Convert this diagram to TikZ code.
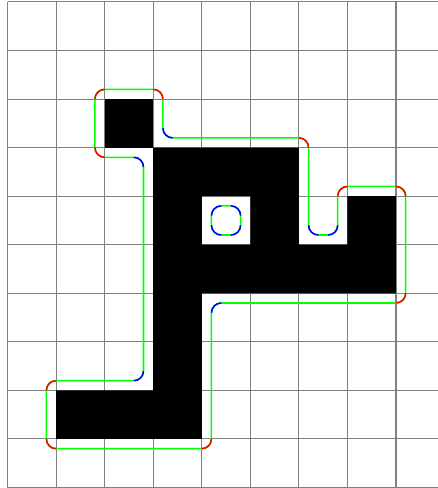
\documentclass[tikz,border=0pt]{standalone}
\begin{document}
\begin{tikzpicture}[
  gridline/.style={draw=gray, line width=0.6pt},
  cell/.style={fill=black},
  contour/.style={draw=green, line width=0.9pt, rounded corners=0.2cm},
  convex/.style={draw=red, line width=0.9pt, rounded corners=0.2cm},
  concave/.style={draw=blue, line width=0.9pt, rounded corners=0.2cm}
]
\useasboundingbox (-0.155,-0.01) rectangle (8.865,10.04);
% grid
\draw[gridline] (0,0) grid (8.865,10);
% black cells
\fill[cell] (2,7) rectangle (3,8);
\fill[cell, even odd rule] (3,7) -- (6,7) -- (6,5) -- (7,5) -- (7,6) -- (8,6) -- (8,4) -- (4,4) -- (4,1) -- (1,1) -- (1,2) -- (3,2) -- cycle
  (4,5) rectangle (5,6);
% outer contour (straight parts)
\draw[contour] (0.8,1.5) -- (0.8,2.2) -- (2.8,2.2) -- (2.8,6.8) -- (1.8,6.8) -- (1.8,8.2) -- (3.2,8.2) -- (3.2,7.2) -- (6.2,7.2) -- (6.2,5.2) -- (6.8,5.2) -- (6.8,6.2) -- (8.2,6.2) -- (8.2,3.8) -- (4.2,3.8) -- (4.2,0.8) -- (0.8,0.8) -- (0.8,1.5);
% inner contour
\draw[contour] (4.5,5.2) -- (4.8,5.2) -- (4.8,5.8) -- (4.2,5.8) -- (4.2,5.2) -- (4.5,5.2);
% convex corners
\draw[convex] (0.8,2.0) -- (0.8,2.2) -- (1.0,2.2);
\draw[convex] (2.0,6.8) -- (1.8,6.8) -- (1.8,7.0);
\draw[convex] (1.8,8.0) -- (1.8,8.2) -- (2.0,8.2);
\draw[convex] (3.0,8.2) -- (3.2,8.2) -- (3.2,8.0);
\draw[convex] (6.0,7.2) -- (6.2,7.2) -- (6.2,7.0);
\draw[convex] (6.8,6.0) -- (6.8,6.2) -- (7.0,6.2);
\draw[convex] (8.0,6.2) -- (8.2,6.2) -- (8.2,6.0);
\draw[convex] (8.2,4.0) -- (8.2,3.8) -- (8.0,3.8);
\draw[convex] (4.2,1.0) -- (4.2,0.8) -- (4.0,0.8);
\draw[convex] (1.0,0.8) -- (0.8,0.8) -- (0.8,1.0);
% concave corners
\draw[concave] (2.6,2.2) -- (2.8,2.2) -- (2.8,2.4);
\draw[concave] (2.8,6.6) -- (2.8,6.8) -- (2.6,6.8);
\draw[concave] (3.2,7.4) -- (3.2,7.2) -- (3.4,7.2);
\draw[concave] (6.2,5.4) -- (6.2,5.2) -- (6.4,5.2);
\draw[concave] (6.6,5.2) -- (6.8,5.2) -- (6.8,5.4);
\draw[concave] (4.4,3.8) -- (4.2,3.8) -- (4.2,3.6);
% inner corners
\draw[concave] (4.2,5.4) -- (4.2,5.2) -- (4.4,5.2);
\draw[concave] (4.6,5.2) -- (4.8,5.2) -- (4.8,5.4);
\draw[concave] (4.8,5.6) -- (4.8,5.8) -- (4.6,5.8);
\draw[concave] (4.4,5.8) -- (4.2,5.8) -- (4.2,5.6);
\end{tikzpicture}
\end{document}
